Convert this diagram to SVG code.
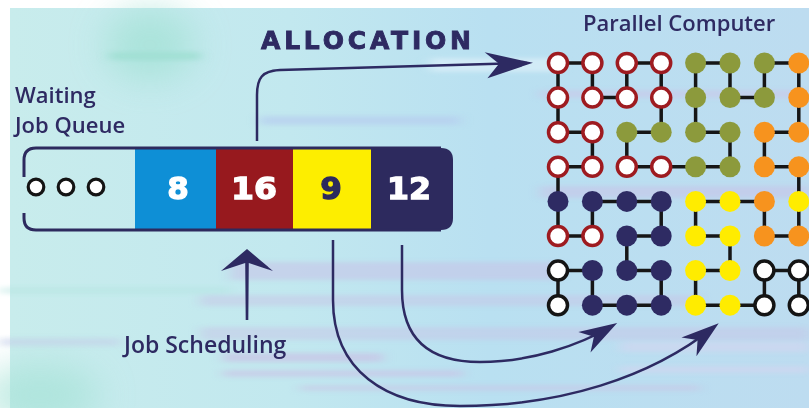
<svg xmlns="http://www.w3.org/2000/svg" width="809" height="408" viewBox="0 0 809 408">
  <defs>
    <style>
      .lbl { font-family: "Open Sans", "Noto Sans", "DejaVu Sans", sans-serif; font-weight: 600; fill: #2e2a62; }
      .num { font-family: "DejaVu Sans", sans-serif; font-weight: bold; font-size: 31px; text-anchor: middle; stroke-width: 1.3; }
      .edge { fill: none; stroke: #161616; stroke-width: 3.5; }
      .conn { fill: none; stroke: #2d2a62; stroke-width: 2.5; }
      .rr { fill: #ffffff; stroke: #9e1b20; stroke-width: 3.5; }
      .rk { fill: #ffffff; stroke: #141414; stroke-width: 3.5; }
      .ol { fill: #8c9a3c; }
      .or { fill: #f7931e; }
      .ye { fill: #ffec00; }
      .nv { fill: #2e2b63; }
      .dot { fill: #ffffff; stroke: #141414; stroke-width: 3.2; }
    </style>
    <linearGradient id="bg" x1="0" y1="0" x2="1" y2="0">
      <stop offset="0" stop-color="#c8ecec"/>
      <stop offset="0.35" stop-color="#c2e8ef"/>
      <stop offset="0.6" stop-color="#b9e0f1"/>
      <stop offset="1" stop-color="#bddcf0"/>
    </linearGradient>
    <filter id="soft" x="-20%" y="-50%" width="140%" height="200%">
      <feGaussianBlur stdDeviation="6 2"/>
    </filter>
    <filter id="blob" x="-50%" y="-50%" width="200%" height="200%">
      <feGaussianBlur stdDeviation="18"/>
    </filter>
    <marker id="head" markerUnits="userSpaceOnUse" markerWidth="50" markerHeight="30" viewBox="-40 -15 50 30" refX="0" refY="0" orient="auto">
      <path d="M6 0 L-32 -12 L-21 0 L-32 12 Z" fill="#2d2a62"/>
    </marker>
    <marker id="headL" markerUnits="userSpaceOnUse" markerWidth="60" markerHeight="34" viewBox="-50 -17 60 34" refX="0" refY="0" orient="auto">
      <path d="M6 0 L-42 -12 L-28 0 L-40 14 Z" fill="#2d2a62"/>
    </marker>
  </defs>

  <!-- backdrop -->
  <rect x="0" y="0" width="809" height="408" fill="#ffffff"/>
  <g id="backdrop">
    <rect x="10" y="8" width="799" height="400" fill="url(#bg)"/>
    <ellipse cx="150" cy="45" rx="45" ry="35" fill="#a4e2d6" opacity="0.8" filter="url(#blob)"/>
    <ellipse cx="40" cy="395" rx="60" ry="30" fill="#a4e2d6" opacity="0.7" filter="url(#blob)"/>
    <g filter="url(#soft)">
      <rect x="110" y="52" width="90" height="8" fill="#9fded2" opacity="0.8"/>
      <rect x="430" y="58" width="130" height="14" fill="#d8eef7" opacity="0.8"/>
      <rect x="260" y="116" width="200" height="9" fill="#b7cff0" opacity="0.7"/>
      <rect x="540" y="90" width="269" height="8" fill="#c9c8ea" opacity="0.6"/>
      <rect x="540" y="186" width="269" height="12" fill="#c6c4e8" opacity="0.6"/>
      <rect x="230" y="262" width="330" height="18" fill="#c7c5e8" opacity="0.6"/>
      <rect x="200" y="295" width="500" height="11" fill="#c7c5e8" opacity="0.5"/>
      <rect x="0" y="287" width="230" height="7" fill="#b0e4de" opacity="0.4"/>
      <rect x="200" y="327" width="609" height="13" fill="#c7c5e8" opacity="0.5"/>
      <rect x="223" y="353" width="160" height="9" fill="#c9c3e6" opacity="0.7"/>
      <rect x="0" y="338" width="120" height="8" fill="#c3cdea" opacity="0.5"/>
      <rect x="223" y="370" width="240" height="7" fill="#c9c3e6" opacity="0.6"/>
      <rect x="620" y="342" width="189" height="10" fill="#d2d6f0" opacity="0.6"/>
      <rect x="620" y="366" width="189" height="7" fill="#d2d6f0" opacity="0.6"/>
      <rect x="300" y="385" width="400" height="6" fill="#c9c3e6" opacity="0.5"/>
    </g>
  </g>

  <!-- titles -->
  <g id="label-waiting">
    <text class="lbl" x="15" y="102.5" font-size="22">Waiting</text>
    <text class="lbl" x="15" y="132.5" font-size="22">Job Queue</text>
  </g>
  <g id="label-allocation">
    <text x="261" y="49" font-family="DejaVu Sans, sans-serif" font-weight="bold" font-size="25" fill="#2e2a62" stroke="#2e2a62" stroke-width="0.9" textLength="210" lengthAdjust="spacing">ALLOCATION</text>
  </g>
  <g id="label-parallel">
    <text class="lbl" x="583" y="31" font-size="22">Parallel Computer</text>
  </g>
  <g id="label-scheduling">
    <text class="lbl" x="124" y="353" font-size="23">Job Scheduling</text>
  </g>

  <!-- waiting job queue -->
  <g id="queue">
    <rect x="135" y="148" width="81" height="82" fill="#0e8fd6"/>
    <rect x="216" y="148" width="77" height="82" fill="#97191e"/>
    <rect x="293" y="148" width="78" height="82" fill="#fdee00"/>
    <path d="M371 148 H441 Q453 148 453 160 V218 Q453 230 441 230 H371 Z" fill="#2d2a5e"/>
    <path d="M24 177 V160 Q24 148 36 148 H441 M24 213 V218 Q24 230 36 230 H441" fill="none" stroke="#2d2a5e" stroke-width="3"/>
    <circle class="dot" cx="36" cy="187" r="7.8"/>
    <circle class="dot" cx="66" cy="187" r="7.8"/>
    <circle class="dot" cx="96" cy="187" r="7.8"/>
    <text class="num" x="178" y="199" fill="#ffffff" stroke="#ffffff">8</text>
    <text class="num" x="254" y="199" fill="#ffffff" stroke="#ffffff" textLength="46" lengthAdjust="spacingAndGlyphs">16</text>
    <text class="num" x="331" y="199" fill="#2d2a5e" stroke="#2d2a5e">9</text>
    <text class="num" x="409" y="199" fill="#ffffff" stroke="#ffffff" textLength="44" lengthAdjust="spacingAndGlyphs">12</text>
  </g>

  <!-- job scheduling arrow -->
  <g id="scheduling-arrow">
    <path d="M247 249 L273 271 L248.8 263 L248.3 320 L245.7 320 L245.2 263 L221 271 Z" fill="#2d2a62"/>
  </g>

  <!-- connectors -->
  <g id="connectors">
    <path class="conn" d="M257 141 V95 C257 78 262 71 280 70 L527 63" marker-end="url(#headL)"/>
    <path class="conn" d="M402 245 V290 C402 340 430 362 480 362 C530 362 578 346 612 326" marker-end="url(#head)"/>
    <path class="conn" d="M333 240 V300 C333 370 385 406 460 406 C560 406 650 378 714 327" marker-end="url(#head)"/>
    <g id="mesh-links" class="edge">
      <path d="M558 63 H592.4 M626.8 63 H661.2 M695.6 63 H730 M764.4 63 H798.8
               M592.4 97.6 H626.8 M730 97.6 H764.4
               M558 132.2 H592.4 M626.8 132.2 H661.2 M695.6 132.2 H730 M764.4 132.2 H798.8
               M558 166.8 H592.4 M626.8 166.8 H730 M764.4 166.8 H798.8
               M592.4 201.4 H661.2 M695.6 201.4 H764.4
               M558 236 H592.4 M626.8 236 H661.2 M695.6 236 H730 M764.4 236 H798.8
               M558 270.6 H592.4 M626.8 270.6 H661.2 M695.6 270.6 H730 M764.4 270.6 H798.8
               M592.4 305.2 H661.2 M695.6 305.2 H764.4"/>
      <path d="M558 63 V132.2 M558 166.8 V236 M558 270.6 V305.2
               M592.4 63 V97.6 M592.4 132.2 V166.8 M592.4 201.4 V236 M592.4 270.6 V305.2
               M626.8 63 V97.6 M626.8 132.2 V166.8 M626.8 236 V270.6
               M661.2 63 V132.2 M661.2 201.4 V236 M661.2 270.6 V305.2
               M695.6 63 V132.2 M695.6 201.4 V236 M695.6 270.6 V305.2
               M730 63 V97.6 M730 132.2 V166.8 M730 236 V270.6
               M764.4 63 V97.6 M764.4 132.2 V166.8 M764.4 201.4 V236 M764.4 270.6 V305.2
               M798.8 63 V132.2 M798.8 166.8 V236 M798.8 270.6 V305.2"/>
    </g>
  </g>

  <!-- parallel computer processors -->
  <g id="processors">
    <!-- row 0 -->
    <circle id="p0-0" class="rr" cx="558" cy="63" r="9.5"/>
    <circle id="p0-1" class="rr" cx="592.4" cy="63" r="9.5"/>
    <circle id="p0-2" class="rr" cx="626.8" cy="63" r="9.5"/>
    <circle id="p0-3" class="rr" cx="661.2" cy="63" r="9.5"/>
    <circle id="p0-4" class="ol" cx="695.6" cy="63" r="10.5"/>
    <circle id="p0-5" class="ol" cx="730" cy="63" r="10.5"/>
    <circle id="p0-6" class="ol" cx="764.4" cy="63" r="10.5"/>
    <circle id="p0-7" class="or" cx="798.8" cy="63" r="10.5"/>
    <!-- row 1 -->
    <circle id="p1-0" class="rr" cx="558" cy="97.6" r="9.5"/>
    <circle id="p1-1" class="rr" cx="592.4" cy="97.6" r="9.5"/>
    <circle id="p1-2" class="rr" cx="626.8" cy="97.6" r="9.5"/>
    <circle id="p1-3" class="rr" cx="661.2" cy="97.6" r="9.5"/>
    <circle id="p1-4" class="ol" cx="695.6" cy="97.6" r="10.5"/>
    <circle id="p1-5" class="ol" cx="730" cy="97.6" r="10.5"/>
    <circle id="p1-6" class="ol" cx="764.4" cy="97.6" r="10.5"/>
    <circle id="p1-7" class="or" cx="798.8" cy="97.6" r="10.5"/>
    <!-- row 2 -->
    <circle id="p2-0" class="rr" cx="558" cy="132.2" r="9.5"/>
    <circle id="p2-1" class="rr" cx="592.4" cy="132.2" r="9.5"/>
    <circle id="p2-2" class="ol" cx="626.8" cy="132.2" r="10.5"/>
    <circle id="p2-3" class="ol" cx="661.2" cy="132.2" r="10.5"/>
    <circle id="p2-4" class="ol" cx="695.6" cy="132.2" r="10.5"/>
    <circle id="p2-5" class="ol" cx="730" cy="132.2" r="10.5"/>
    <circle id="p2-6" class="or" cx="764.4" cy="132.2" r="10.5"/>
    <circle id="p2-7" class="or" cx="798.8" cy="132.2" r="10.5"/>
    <!-- row 3 -->
    <circle id="p3-0" class="rr" cx="558" cy="166.8" r="9.5"/>
    <circle id="p3-1" class="rr" cx="592.4" cy="166.8" r="9.5"/>
    <circle id="p3-2" class="rr" cx="626.8" cy="166.8" r="9.5"/>
    <circle id="p3-3" class="rr" cx="661.2" cy="166.8" r="9.5"/>
    <circle id="p3-4" class="ol" cx="695.6" cy="166.8" r="10.5"/>
    <circle id="p3-5" class="ol" cx="730" cy="166.8" r="10.5"/>
    <circle id="p3-6" class="or" cx="764.4" cy="166.8" r="10.5"/>
    <circle id="p3-7" class="or" cx="798.8" cy="166.8" r="10.5"/>
    <!-- row 4 -->
    <circle id="p4-0" class="nv" cx="558" cy="201.4" r="10.5"/>
    <circle id="p4-1" class="nv" cx="592.4" cy="201.4" r="10.5"/>
    <circle id="p4-2" class="nv" cx="626.8" cy="201.4" r="10.5"/>
    <circle id="p4-3" class="nv" cx="661.2" cy="201.4" r="10.5"/>
    <circle id="p4-4" class="ye" cx="695.6" cy="201.4" r="10.5"/>
    <circle id="p4-5" class="ye" cx="730" cy="201.4" r="10.5"/>
    <circle id="p4-6" class="or" cx="764.4" cy="201.4" r="10.5"/>
    <circle id="p4-7" class="ye" cx="798.8" cy="201.4" r="10.5"/>
    <!-- row 5 -->
    <circle id="p5-0" class="rr" cx="558" cy="236" r="9.5"/>
    <circle id="p5-1" class="rr" cx="592.4" cy="236" r="9.5"/>
    <circle id="p5-2" class="nv" cx="626.8" cy="236" r="10.5"/>
    <circle id="p5-3" class="nv" cx="661.2" cy="236" r="10.5"/>
    <circle id="p5-4" class="ye" cx="695.6" cy="236" r="10.5"/>
    <circle id="p5-5" class="ye" cx="730" cy="236" r="10.5"/>
    <circle id="p5-6" class="or" cx="764.4" cy="236" r="10.5"/>
    <circle id="p5-7" class="or" cx="798.8" cy="236" r="10.5"/>
    <!-- row 6 -->
    <circle id="p6-0" class="rk" cx="558" cy="270.6" r="9.5"/>
    <circle id="p6-1" class="nv" cx="592.4" cy="270.6" r="10.5"/>
    <circle id="p6-2" class="nv" cx="626.8" cy="270.6" r="10.5"/>
    <circle id="p6-3" class="nv" cx="661.2" cy="270.6" r="10.5"/>
    <circle id="p6-4" class="ye" cx="695.6" cy="270.6" r="10.5"/>
    <circle id="p6-5" class="ye" cx="730" cy="270.6" r="10.5"/>
    <circle id="p6-6" class="rk" cx="764.4" cy="270.6" r="9.5"/>
    <circle id="p6-7" class="rk" cx="798.8" cy="270.6" r="9.5"/>
    <!-- row 7 -->
    <circle id="p7-0" class="rk" cx="558" cy="305.2" r="9.5"/>
    <circle id="p7-1" class="nv" cx="592.4" cy="305.2" r="10.5"/>
    <circle id="p7-2" class="nv" cx="626.8" cy="305.2" r="10.5"/>
    <circle id="p7-3" class="nv" cx="661.2" cy="305.2" r="10.5"/>
    <circle id="p7-4" class="ye" cx="695.6" cy="305.2" r="10.5"/>
    <circle id="p7-5" class="ye" cx="730" cy="305.2" r="10.5"/>
    <circle id="p7-6" class="rk" cx="764.4" cy="305.2" r="9.5"/>
    <circle id="p7-7" class="rk" cx="798.8" cy="305.2" r="9.5"/>
  </g>
</svg>
